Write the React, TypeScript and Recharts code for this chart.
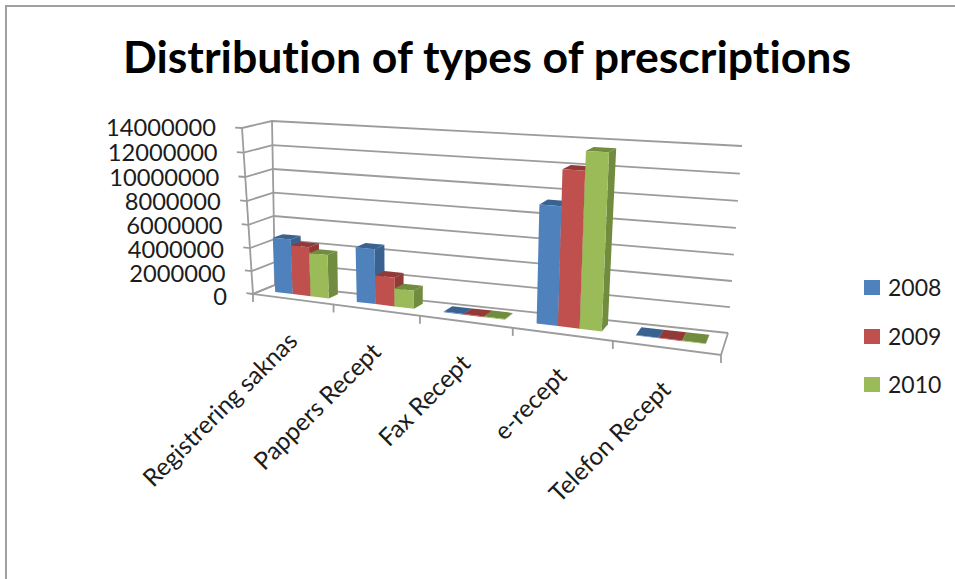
import { BarChart, Bar, XAxis, YAxis, CartesianGrid, Legend } from "recharts";

const categories = ["Registrering saknas", "Pappers Recept", "Fax Recept", "e-recept", "Telefon Recept"];
const years = ["2008", "2009", "2010"];
const values2008 = [4700000, 4600000, 60000, 9300000, 50000];
const values2009 = [4200000, 2400000, 60000, 12050000, 50000];
const values2010 = [3700000, 1500000, 60000, 13500000, 50000];
const yTicks = [0, 2000000, 4000000, 6000000, 8000000, 10000000, 12000000, 14000000];

const seriesValues = [values2008, values2009, values2010];
const faceColors = ["#4f81bd", "#c0504d", "#9bbb59"];
const sideColors = ["#3a6291", "#923a38", "#718c3e"];

const tableData = categories.map((name, i) => ({
  name,
  "2008": seriesValues[0][i],
  "2009": seriesValues[1][i],
  "2010": seriesValues[2][i],
}));

const FONT = "Lato, sans-serif";
const GRID = "#9c9c9c";
const INK = "#1c1c1c";

// flat area handed to recharts, bars and ticks get projected out of it
const plot = { left: 100, top: 100, width: 700, height: 400 };

type Pt = [number, number];

// unit square -> quad, corners are bottom-left, bottom-right, top-right, top-left
function quadMap([p0, p1, p2, p3]: Pt[]) {
  const dx1 = p1[0] - p2[0];
  const dy1 = p1[1] - p2[1];
  const dx2 = p3[0] - p2[0];
  const dy2 = p3[1] - p2[1];
  const sx = p0[0] - p1[0] + p2[0] - p3[0];
  const sy = p0[1] - p1[1] + p2[1] - p3[1];
  const det = dx1 * dy2 - dx2 * dy1;
  const g = (sx * dy2 - dx2 * sy) / det;
  const h = (dx1 * sy - sx * dy1) / det;
  return (u: number, v: number): Pt => {
    const d = g * u + h * v + 1;
    return [
      ((p1[0] - p0[0] + g * p1[0]) * u + (p3[0] - p0[0] + h * p3[0]) * v + p0[0]) / d,
      ((p1[1] - p0[1] + g * p1[1]) * u + (p3[1] - p0[1] + h * p3[1]) * v + p0[1]) / d,
    ];
  };
}

const frontPlane = quadMap([[253, 294], [721, 355], [735, 157], [242, 128]]);
const backPlane = quadMap([[275, 285], [728, 333], [742, 146], [272, 121]]);

// u along the categories, v up the value axis, w from the front edge to the back wall
function project(u: number, v: number, w: number): Pt {
  const a = frontPlane(u, v);
  const b = backPlane(u, v);
  return [a[0] + (b[0] - a[0]) * w, a[1] + (b[1] - a[1]) * w];
}

const toU = (x: number) => (x - plot.left) / plot.width;
const toV = (y: number) => (plot.top + plot.height - y) / plot.height;
const path = (pts: Pt[]) => "M" + pts.map((p) => p[0].toFixed(1) + "," + p[1].toFixed(1)).join("L") + "Z";
const openPath = (pts: Pt[]) => "M" + pts.map((p) => p[0].toFixed(1) + "," + p[1].toFixed(1)).join("L");

const BAR_FRONT = 0.4;
const BAR_BACK = 0.8;

function Bar3D({ x, y, width, height, index, seriesIndex }: any) {
  const u0 = toU(x);
  const u1 = toU(x + width);
  const v1 = toV(y);
  const v0 = toV(y + height);
  const f = BAR_FRONT;
  const b = BAR_BACK;
  const face = faceColors[seriesIndex];
  const dark = sideColors[seriesIndex];
  return (
    <g key={index}>
      <path d={path([project(u1, v0, f), project(u1, v0, b), project(u1, v1, b), project(u1, v1, f)])} fill={dark} />
      <path d={path([project(u0, v1, f), project(u1, v1, f), project(u1, v1, b), project(u0, v1, b)])} fill={dark} />
      <path d={path([project(u0, v0, f), project(u1, v0, f), project(u1, v1, f), project(u0, v1, f)])} fill={face} />
    </g>
  );
}

// one value line: stub, side wall, back wall. The zero line also draws the floor.
function GridLine({ y1, index }: any) {
  const v = toV(y1);
  const stub = project(-0.017, v, 0);
  return (
    <g key={index} fill="none" stroke={GRID} strokeWidth={1.8}>
      <path d={openPath([stub, project(0, v, 0), project(0, v, 1), project(1, v, 1)])} />
      {v < 0.001 && (
        <>
          <path d={openPath([project(0, 0, 0), project(0, 1, 0)])} />
          <path d={openPath([project(0, 1, 1), project(0, 0, 1), project(0, 0, 0), project(1, 0, 0), project(1, 0, 1)])} />
          {categories.concat("").map((_, i) => {
            const p = project(i / categories.length, 0, 0);
            return <path key={i} d={`M${p[0]},${p[1]}v8`} />;
          })}
        </>
      )}
    </g>
  );
}

function CategoryTick({ x, payload }: any) {
  const p = project(toU(x), 0, 0);
  const ax = p[0] + 2;
  const ay = p[1] + 39;
  return (
    <text
      x={ax}
      y={ay}
      textAnchor="end"
      dominantBaseline="middle"
      transform={`rotate(-45 ${ax} ${ay})`}
      fontFamily={FONT}
      fontSize={24.5}
      fill={INK}
      style={{ fontVariantLigatures: "none" }}
    >
      {payload.value}
    </text>
  );
}

function ValueTick({ y, payload }: any) {
  const v = toV(y);
  const p = project(0, v, 0);
  return (
    <text
      x={p[0] - 26}
      y={p[1] + 2 + (1 - v) * 3}
      textAnchor="end"
      dominantBaseline="middle"
      fontFamily={FONT}
      fontSize={23.7}
      fill={INK}
    >
      {payload.value}
    </text>
  );
}

function YearLegend({ payload }: any) {
  return (
    <div>
      {(payload || []).map((item: any) => (
        <div key={item.value} style={{ position: "relative", height: 48.5, fontFamily: FONT, fontSize: 23, color: INK }}>
          <span style={{ position: "absolute", left: 0, top: 8, width: 16, height: 15, background: item.color }} />
          <span style={{ position: "absolute", left: 24, top: 1, lineHeight: "28px" }}>{item.value}</span>
        </div>
      ))}
    </div>
  );
}

export default function App() {
  return (
    <div style={{ position: "absolute", left: 0, top: 0, width: 955, height: 579, background: "#fff", overflow: "hidden" }}>
      {/* frame, only the top and left edges are visible */}
      <div style={{ position: "absolute", left: 5, top: 5, width: 960, height: 590, borderTop: "2px solid #a0a0a0", borderLeft: "2px solid #a0a0a0" }} />
      <div
        style={{
          position: "absolute",
          left: 0,
          top: 31,
          width: 974,
          textAlign: "center",
          fontFamily: FONT,
          fontWeight: 700,
          fontSize: 44.6,
          lineHeight: "50px",
          color: "#000",
          fontVariantLigatures: "none",
        }}
      >
        Distribution of types of prescriptions
      </div>
      <BarChart
        width={955}
        height={579}
        data={tableData}
        barCategoryGap="17%"
        barGap={0}
        margin={{ top: plot.top, left: plot.left - 1, right: 955 - plot.left - plot.width, bottom: 579 - plot.top - plot.height - 1 }}
        style={{ position: "absolute", left: 0, top: 0 }}
      >
        <CartesianGrid vertical={false} horizontal={(props: any) => <GridLine {...props} />} />
        <XAxis dataKey="name" height={1} interval={0} axisLine={false} tickLine={false} tick={<CategoryTick />} />
        <YAxis width={1} domain={[0, 14000000]} ticks={yTicks} interval={0} axisLine={false} tickLine={false} tick={<ValueTick />} />
        <Legend
          layout="vertical"
          align="center"
          verticalAlign="middle"
          content={<YearLegend />}
          wrapperStyle={{ left: 864, top: 272, width: 90, margin: 0 }}
        />
        {years.map((year, s) => (
          <Bar
            key={year}
            dataKey={year}
            fill={faceColors[s]}
            isAnimationActive={false}
            shape={(props: any) => <Bar3D {...props} seriesIndex={s} />}
          />
        ))}
      </BarChart>
    </div>
  );
}
